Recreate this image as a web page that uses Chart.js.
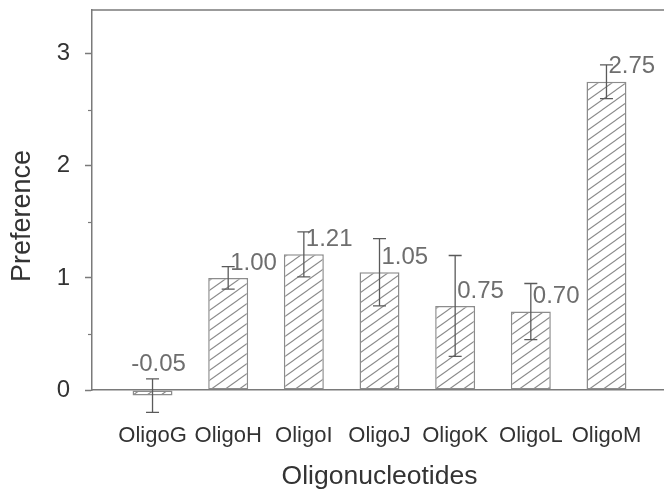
<!DOCTYPE html>
<html>
<head>
<meta charset="utf-8">
<script src="https://cdn.jsdelivr.net/npm/chart.js@4/dist/chart.umd.min.js"></script>
<style>
  html, body { margin: 0; padding: 0; background: #fff; width: 664px; height: 493px; overflow: hidden; }
  canvas { display: block; }
</style>
</head>
<body>
<canvas id="chart" width="680" height="493"></canvas>
<script>
// Mean preference per oligonucleotide, with its error (± half-range)
const categories = ['OligoG', 'OligoH', 'OligoI', 'OligoJ', 'OligoK', 'OligoL', 'OligoM'];
const preference = [-0.05, 1.00, 1.21, 1.05, 0.75, 0.70, 2.75];
const errors = [0.15, 0.10, 0.20, 0.30, 0.45, 0.25, 0.15];
const yTicks = [0, 1, 2, 3];
const yMinorTicks = [0.5, 1.5, 2.5];
const yTitle = 'Preference';
const xTitle = 'Oligonucleotides';

const FONT = '"Liberation Sans", Arial, Helvetica, sans-serif';
const AXIS_GRAY = '#7a7a7a';
const TEXT_DARK = '#333333';
const LABEL_GRAY = '#6e6e6e';

const canvas = document.getElementById('chart');
const ctx = canvas.getContext('2d');

// Diagonal "/" hatch on a white ground
function makeHatch() {
  const W = 14, H = 10;
  const tile = document.createElement('canvas');
  tile.width = W; tile.height = H;
  const g = tile.getContext('2d');
  g.fillStyle = '#ffffff';
  g.fillRect(0, 0, W, H);
  g.strokeStyle = '#8a8a8a';
  g.lineWidth = 1.1;
  for (const [dx, dy] of [[0, 0], [W, 0], [-W, 0], [0, H], [0, -H]]) {
    g.beginPath();
    g.moveTo(dx, H + dy);
    g.lineTo(W + dx, dy);
    g.stroke();
  }
  return ctx.createPattern(tile, 'repeat');
}

// Top frame line, short minor ticks and the rotated value-axis title
const framePlugin = {
  id: 'frame',
  afterDraw(chart) {
    const { ctx, chartArea, scales } = chart;
    ctx.save();
    ctx.strokeStyle = AXIS_GRAY;
    ctx.lineWidth = 1.5;
    ctx.beginPath();
    ctx.moveTo(chartArea.left - 0.75, chartArea.top);
    ctx.lineTo(chart.width, chartArea.top);
    ctx.stroke();
    ctx.lineWidth = 1.2;
    for (const v of yMinorTicks) {
      const y = Math.round(scales.y.getPixelForValue(v)) + 0.5;
      ctx.beginPath();
      ctx.moveTo(chartArea.left - 4, y);
      ctx.lineTo(chartArea.left, y);
      ctx.stroke();
    }
    // axis title, centred a little below the middle of the plot
    ctx.translate(scales.y.left + 19, (chartArea.top + chartArea.bottom) / 2 + 16);
    ctx.rotate(-Math.PI / 2);
    ctx.fillStyle = TEXT_DARK;
    ctx.font = '27px ' + FONT;
    ctx.textAlign = 'center';
    ctx.textBaseline = 'middle';
    ctx.fillText(yTitle, 0, 0);
    ctx.restore();
  }
};

// Error bars with caps
const errorBarPlugin = {
  id: 'errorBars',
  afterDatasetsDraw(chart) {
    const { ctx, scales } = chart;
    const meta = chart.getDatasetMeta(0);
    ctx.save();
    ctx.strokeStyle = '#5a5a5a';
    ctx.lineWidth = 1.3;
    meta.data.forEach((bar, i) => {
      const x = bar.x;
      const yHi = scales.y.getPixelForValue(preference[i] + errors[i]);
      const yLo = scales.y.getPixelForValue(preference[i] - errors[i]);
      const cap = 6.5;
      ctx.beginPath();
      ctx.moveTo(x, yHi); ctx.lineTo(x, yLo);
      ctx.moveTo(x - cap, yHi); ctx.lineTo(x + cap, yHi);
      ctx.moveTo(x - cap, yLo); ctx.lineTo(x + cap, yLo);
      ctx.stroke();
    });
    ctx.restore();
  }
};

// Value labels beside each bar top
const valueLabelPlugin = {
  id: 'valueLabels',
  afterDatasetsDraw(chart) {
    const { ctx, scales } = chart;
    const meta = chart.getDatasetMeta(0);
    ctx.save();
    ctx.fillStyle = LABEL_GRAY;
    ctx.font = '24px ' + FONT;
    ctx.textBaseline = 'middle';
    meta.data.forEach((bar, i) => {
      const v = preference[i];
      const text = v.toFixed(2);
      if (v < 0) {
        ctx.textAlign = 'center';
        ctx.fillText(text, bar.x + 6, scales.y.getPixelForValue(0) - 26);
      } else {
        ctx.textAlign = 'left';
        ctx.fillText(text, bar.x + 2, scales.y.getPixelForValue(v) - 15);
      }
    });
    ctx.restore();
  }
};

new Chart(ctx, {
  type: 'bar',
  data: {
    datasets: [{
      data: categories.map((c, i) => ({ x: i, y: preference[i] })),
      backgroundColor: makeHatch(),
      borderColor: '#8c8c8c',
      borderWidth: 1.5,
      borderSkipped: false,
      barPercentage: 0.66,
      categoryPercentage: 0.8,
      clip: false
    }]
  },
  options: {
    responsive: false,
    animation: false,
    events: [],
    layout: { padding: { left: 4, right: 13, top: 10, bottom: 0 } },
    plugins: { legend: { display: false }, tooltip: { enabled: false } },
    scales: {
      x: {
        type: 'linear',
        min: -0.8,
        max: 6.8,
        offset: false,
        afterBuildTicks: s => { s.ticks = categories.map((c, i) => ({ value: i })); },
        afterFit: s => { s.paddingLeft = 0; s.paddingRight = 0; s.height = 103; },
        ticks: {
          autoSkip: false,
          maxRotation: 0,
          padding: 33,
          color: TEXT_DARK,
          font: { family: FONT, size: 22 },
          callback: v => categories[v]
        },
        grid: { display: true, drawOnChartArea: false, drawTicks: false, offset: false },
        border: { display: true, color: AXIS_GRAY, width: 1.5 },
        title: {
          display: true,
          text: xTitle,
          color: TEXT_DARK,
          font: { family: FONT, size: 26.5 },
          padding: { top: 0, bottom: 0 }
        }
      },
      y: {
        min: 0,
        max: 3.39,
        afterBuildTicks: s => { s.ticks = yTicks.map(v => ({ value: v })); },
        afterFit: s => { s.paddingTop = 0; s.paddingBottom = 0; s.width = 88; },
        ticks: {
          padding: 15,
          color: TEXT_DARK,
          font: { family: FONT, size: 24 },
          callback: v => String(v)
        },
        grid: {
          display: true,
          drawOnChartArea: false,
          drawTicks: true,
          tickLength: 7,
          tickColor: AXIS_GRAY,
          tickWidth: 1.5
        },
        border: { display: true, color: AXIS_GRAY, width: 1.5 },
        title: { display: false }
      }
    }
  },
  plugins: [framePlugin, errorBarPlugin, valueLabelPlugin]
});
</script>
</body>
</html>
